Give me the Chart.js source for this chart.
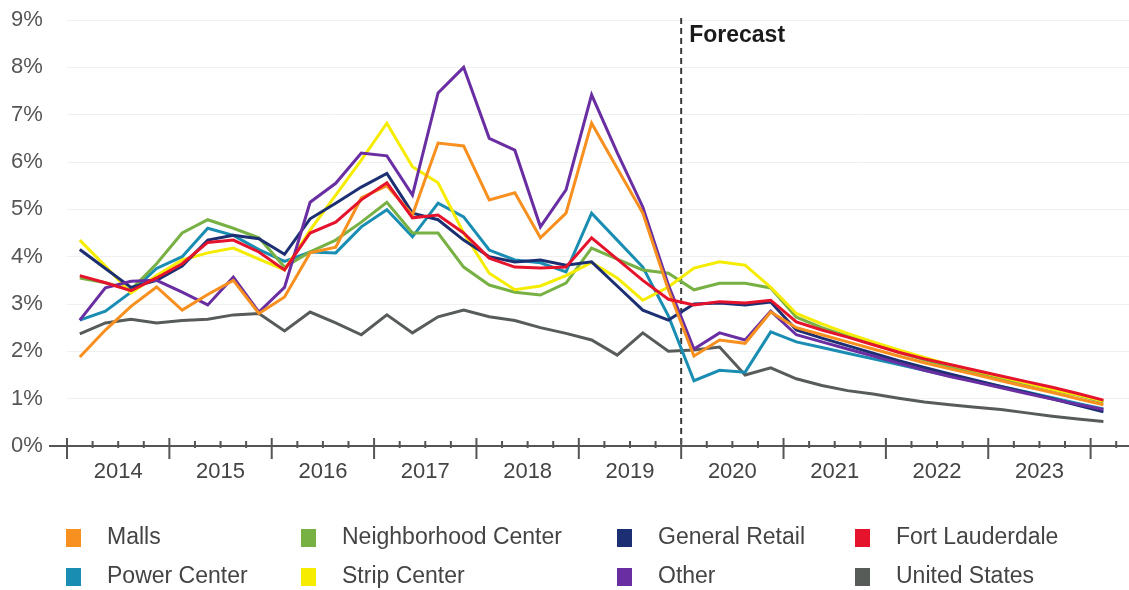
<!DOCTYPE html>
<html>
<head>
<meta charset="utf-8">
<script src="https://cdn.jsdelivr.net/npm/chart.js@4"></script>
<style>
  html, body { margin: 0; background: #fff; }
  #wrap { width: 1129px; height: 590px; position: relative; }
</style>
</head>
<body>
<div id="wrap"><canvas id="chart"></canvas></div>
<script>
// quarterly vacancy, 2014 Q1 .. 2024 Q1 (forecast from 2020 Q1)
const quarters = [
  '2014 Q1','2014 Q2','2014 Q3','2014 Q4','2015 Q1','2015 Q2','2015 Q3','2015 Q4',
  '2016 Q1','2016 Q2','2016 Q3','2016 Q4','2017 Q1','2017 Q2','2017 Q3','2017 Q4',
  '2018 Q1','2018 Q2','2018 Q3','2018 Q4','2019 Q1','2019 Q2','2019 Q3','2019 Q4',
  '2020 Q1','2020 Q2','2020 Q3','2020 Q4','2021 Q1','2021 Q2','2021 Q3','2021 Q4',
  '2022 Q1','2022 Q2','2022 Q3','2022 Q4','2023 Q1','2023 Q2','2023 Q3','2023 Q4',
  '2024 Q1'
];
const years = ['2014','2015','2016','2017','2018','2019','2020','2021','2022','2023'];
const yTickLabels = ['0%','1%','2%','3%','4%','5%','6%','7%','8%','9%'];
const forecastLabel = 'Forecast';

const malls = [1.88, 2.45, 2.95, 3.36, 2.87, 3.2, 3.5, 2.8, 3.15, 4.08, 4.2, 5.24, 5.5, 4.88, 6.4, 6.34,
  5.2, 5.35, 4.4, 4.92, 6.82, 5.87, 4.92, 3.3, 1.9, 2.24, 2.17, 2.83, 2.5, 2.35, 2.2, 2.05,
  1.9, 1.76, 1.63, 1.51, 1.38, 1.25, 1.13, 1.0, 0.87];
const neighborhood = [3.55, 3.45, 3.3, 3.85, 4.5, 4.78, 4.6, 4.4, 3.78, 4.1, 4.35, 4.73, 5.15, 4.5, 4.5, 3.78,
  3.4, 3.25, 3.19, 3.44, 4.18, 3.95, 3.72, 3.65, 3.3, 3.44, 3.44, 3.34, 2.72, 2.5, 2.32, 2.15,
  1.98, 1.82, 1.68, 1.55, 1.43, 1.31, 1.19, 1.07, 0.93];
const generalRetail = [4.15, 3.75, 3.35, 3.5, 3.8, 4.35, 4.45, 4.38, 4.05, 4.8, 5.13, 5.47, 5.76, 4.92, 4.78, 4.35,
  4.0, 3.89, 3.93, 3.82, 3.89, 3.38, 2.87, 2.66, 3.0, 3.02, 2.98, 3.04, 2.45, 2.28, 2.12, 1.96,
  1.8, 1.66, 1.52, 1.39, 1.26, 1.13, 1.0, 0.86, 0.72];
const fortLauderdale = [3.6, 3.45, 3.28, 3.55, 3.85, 4.3, 4.35, 4.1, 3.72, 4.5, 4.73, 5.2, 5.56, 4.82, 4.88, 4.5,
  3.97, 3.78, 3.76, 3.78, 4.4, 3.95, 3.5, 3.1, 2.98, 3.05, 3.02, 3.08, 2.62, 2.45, 2.3, 2.14,
  1.98, 1.84, 1.72, 1.6, 1.48, 1.36, 1.24, 1.11, 0.97];
const powerCenter = [2.66, 2.85, 3.25, 3.75, 4.0, 4.6, 4.45, 4.15, 3.9, 4.1, 4.08, 4.63, 4.99, 4.42, 5.13, 4.84,
  4.14, 3.93, 3.87, 3.68, 4.92, 4.35, 3.78, 2.75, 1.38, 1.6, 1.56, 2.41, 2.2, 2.08, 1.96, 1.84,
  1.72, 1.6, 1.48, 1.37, 1.26, 1.14, 1.02, 0.9, 0.78];
const stripCenter = [4.35, 3.8, 3.23, 3.6, 3.93, 4.08, 4.18, 3.95, 3.72, 4.56, 5.3, 6.04, 6.82, 5.9, 5.56, 4.5,
  3.65, 3.3, 3.38, 3.6, 3.88, 3.55, 3.08, 3.36, 3.76, 3.89, 3.82, 3.35, 2.8, 2.58, 2.38, 2.2,
  2.03, 1.87, 1.72, 1.59, 1.46, 1.33, 1.2, 1.08, 0.95];
const other = [2.66, 3.34, 3.48, 3.5, 3.25, 2.98, 3.57, 2.83, 3.35, 5.15, 5.55, 6.19, 6.13, 5.3, 7.46, 8.0,
  6.5, 6.25, 4.63, 5.41, 7.42, 6.2, 5.05, 3.4, 2.05, 2.39, 2.24, 2.85, 2.35, 2.2, 2.05, 1.9,
  1.75, 1.6, 1.47, 1.35, 1.23, 1.11, 0.99, 0.88, 0.77];
const unitedStates = [2.37, 2.6, 2.68, 2.6, 2.65, 2.68, 2.77, 2.8, 2.43, 2.83, 2.6, 2.35, 2.77, 2.39, 2.73, 2.87,
  2.73, 2.65, 2.5, 2.38, 2.24, 1.92, 2.39, 2.0, 2.03, 2.09, 1.5, 1.65, 1.42, 1.28, 1.17, 1.1,
  1.01, 0.93, 0.87, 0.82, 0.77, 0.7, 0.63, 0.57, 0.52];

// legend order is row by row
const series = [
  { label: 'Malls', data: malls, color: '#f7901e', z: 1 },
  { label: 'Neighborhood Center', data: neighborhood, color: '#77b043', z: 5 },
  { label: 'General Retail', data: generalRetail, color: '#1c2f72', z: 3 },
  { label: 'Fort Lauderdale', data: fortLauderdale, color: '#e5132c', z: 0 },
  { label: 'Power Center', data: powerCenter, color: '#1a8db3', z: 6 },
  { label: 'Strip Center', data: stripCenter, color: '#f5ec00', z: 4 },
  { label: 'Other', data: other, color: '#6a2ea3', z: 2 },
  { label: 'United States', data: unitedStates, color: '#575c59', z: 7 }
];

const FONT = '"Liberation Sans", Arial, sans-serif';

const axisPlugin = {
  id: 'axisPlugin',
  beforeDatasetsDraw(chart) {
    const { ctx, scales: { x, y } } = chart;
    // forecast divider at the 2019/2020 boundary
    const fx = x.getPixelForValue(23.5);
    ctx.save();
    ctx.strokeStyle = '#3a3a3a';
    ctx.lineWidth = 2;
    ctx.setLineDash([6, 4]);
    ctx.beginPath();
    ctx.moveTo(fx, 18);
    ctx.lineTo(fx, y.getPixelForValue(0));
    ctx.stroke();
    ctx.restore();
  },
  afterDraw(chart) {
    const { ctx, scales: { x, y } } = chart;
    const y0 = y.getPixelForValue(0);
    ctx.save();
    ctx.strokeStyle = '#555';
    ctx.lineWidth = 2;
    ctx.beginPath();
    ctx.moveTo(49, y0);
    ctx.lineTo(chart.width, y0);
    ctx.stroke();
    // quarter ticks, year ticks every 4
    for (let j = 0; j <= 41; j++) {
      const px = x.getPixelForValue(-0.5 + j);
      ctx.beginPath();
      if (j % 4 === 0) {
        ctx.moveTo(px, y0 - 8);
        ctx.lineTo(px, y0 + 13);
      } else {
        ctx.moveTo(px, y0 - 5);
        ctx.lineTo(px, y0 + 2);
      }
      ctx.stroke();
    }
    ctx.fillStyle = '#444';
    ctx.font = '22px ' + FONT;
    ctx.textAlign = 'center';
    ctx.textBaseline = 'middle';
    years.forEach((yr, k) => {
      ctx.fillText(yr, x.getPixelForValue(1.5 + 4 * k), 472);
    });

    // forecast label
    ctx.fillStyle = '#1a1a1a';
    ctx.font = 'bold 23px ' + FONT;
    ctx.textAlign = 'left';
    ctx.textBaseline = 'alphabetic';
    ctx.fillText(forecastLabel, x.getPixelForValue(23.5) + 8, 42);

    // legend, 4 columns x 2 rows
    const colX = [107, 342, 658, 896];
    const rowY = [538, 577];
    ctx.font = '23px ' + FONT;
    ctx.textBaseline = 'middle';
    series.forEach((s, i) => {
      const cx = colX[i % 4];
      const cy = rowY[Math.floor(i / 4)];
      ctx.fillStyle = s.color;
      ctx.fillRect(cx - 41, cy - 9, 15, 18);
      ctx.fillStyle = '#444';
      ctx.fillText(s.label, cx, cy);
    });
    ctx.restore();
  }
};

new Chart(document.getElementById('chart'), {
  type: 'line',
  data: {
    datasets: series.map((s) => ({
      label: s.label,
      data: s.data.map((v, i) => ({ x: i, y: v })),
      borderColor: s.color,
      backgroundColor: s.color,
      order: s.z
    }))
  },
  options: {
    responsive: true,
    maintainAspectRatio: false,
    animation: false,
    layout: { padding: { top: 20, bottom: 144, left: 11, right: 0 } },
    elements: {
      point: { radius: 0 },
      line: { borderWidth: 3, tension: 0 }
    },
    plugins: { legend: { display: false }, tooltip: { enabled: false } },
    scales: {
      x: { type: 'linear', min: -0.5, max: 41, display: false },
      y: {
        min: 0,
        max: 9,
        ticks: {
          stepSize: 1,
          padding: 0,
          crossAlign: 'far',
          color: '#555',
          font: { size: 22, family: FONT },
          callback: (v) => yTickLabels[v]
        },
        grid: { drawTicks: false, color: '#f0f0f0' },
        border: { display: false },
        afterFit: (s) => { s.width = 56; }
      }
    }
  },
  plugins: [axisPlugin]
});
</script>
</body>
</html>
